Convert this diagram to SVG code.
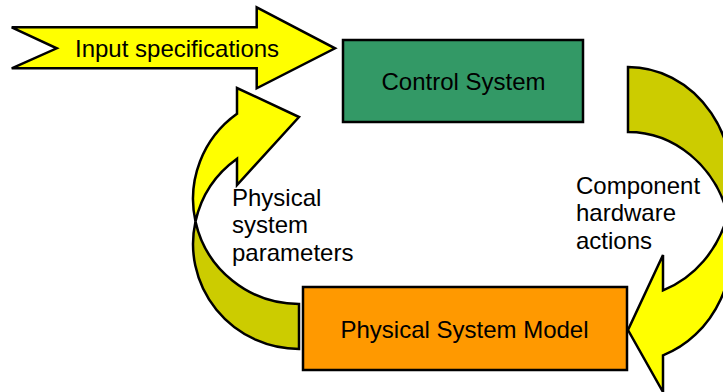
<svg xmlns="http://www.w3.org/2000/svg" width="723" height="392" viewBox="0 0 723 392">
  <style>
    .lbl { font-family: "Liberation Sans", Arial, sans-serif; font-size: 24px; fill: #000; }
    .mid { text-anchor: middle; }
    .edge { stroke: #000; stroke-width: 2.5; stroke-linejoin: miter; }
    .back { fill: #CCCC00; }
    .front { fill: #FFFF00; }
  </style>
  <rect width="723" height="392" fill="#fff"/>

  <!-- Block arrow feeding the specifications in -->
  <g id="input-specifications">
    <polygon class="edge front" points="11.7,27.3 256.7,27.3 256.7,7.3 335,48.3 256.7,88.3 256.7,68.3 11.7,68.3 56.7,48.3"/>
    <text class="lbl" x="75" y="57">Input specifications</text>
  </g>

  <!-- Curved feedback arrows -->
  <g id="connectors">
    <!-- right loop: control system down to the model -->
    <g id="hardware-actions-arrow">
      <path class="edge back" d="M628,67 A104 115 0 0 1 727.8,214.5 A104 115 0 0 0 628,132 Z"/>
      <path class="edge front" d="M727.8,214.5 A104 115 0 0 1 663,290.3 L663,255 L628,330 L663,392 L663,355.3 A104 115 0 0 0 727.8,214.5 Z"/>
    </g>
    <!-- left loop: model back up to the control system -->
    <g id="parameters-arrow">
      <path class="edge back" d="M299,349 A106 105 0 0 1 195.5,221.5 A106 105 0 0 0 299,304 Z"/>
      <path class="edge front" d="M195.5,221.5 A106 105 0 0 1 237,113.8 L237,88 L299,117 L237,185 L237,158.8 A106 105 0 0 0 195.5,221.5 Z"/>
    </g>
  </g>

  <g id="control-system">
    <rect class="edge" x="343" y="40" width="240" height="82" fill="#339966"/>
    <text class="lbl mid" x="463.5" y="90">Control System</text>
  </g>

  <g id="physical-system-model">
    <rect class="edge" x="303" y="287" width="324" height="83" fill="#FF9900"/>
    <text class="lbl mid" x="464.5" y="338">Physical System Model</text>
  </g>

  <g id="label-hardware-actions">
    <text class="lbl" x="576" y="193.5">Component</text>
    <text class="lbl" x="576" y="221">hardware</text>
    <text class="lbl" x="576" y="248.5">actions</text>
  </g>

  <g id="label-system-parameters">
    <text class="lbl" x="232" y="205.5">Physical</text>
    <text class="lbl" x="232" y="233">system</text>
    <text class="lbl" x="232" y="260.5">parameters</text>
  </g>
</svg>
